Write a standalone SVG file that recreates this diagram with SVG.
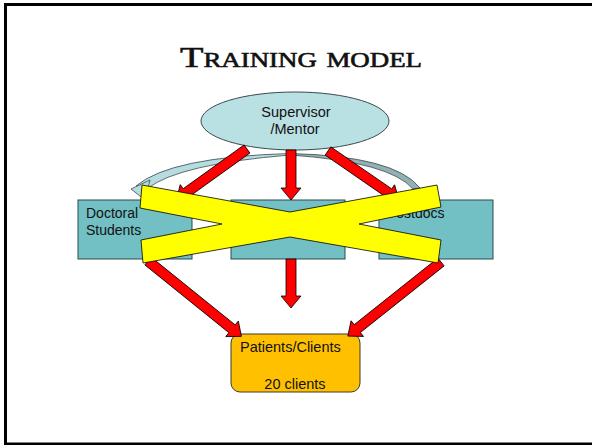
<svg xmlns="http://www.w3.org/2000/svg" width="592" height="445" viewBox="0 0 592 445">
<style>
.lbl{font-family:"Liberation Sans",Arial,sans-serif;font-size:14.5px;fill:#111}
.box{fill:#72bfc4;stroke:#2d4a4c;stroke-width:1}
.arr{fill:#ff0000;stroke:#000;stroke-width:0.8;stroke-linejoin:miter}
</style>
<rect width="592" height="445" fill="#fff"/>
<rect x="5.5" y="4.5" width="600" height="439.5" fill="none" stroke="#000" stroke-width="3"/>
<text x="180" y="67" textLength="242" lengthAdjust="spacingAndGlyphs" font-family="'Liberation Serif',serif" font-size="30" font-variant="small-caps" fill="#111" stroke="#111" stroke-width="0.6">Training model</text>

<g id="node-supervisor">
<ellipse cx="295" cy="121" rx="94" ry="29" fill="#b9e0e3" stroke="#3a4a4c" stroke-width="1"/>
<text class="lbl" x="296" y="117" text-anchor="middle">Supervisor</text>
<text class="lbl" x="295" y="134" text-anchor="middle">/Mentor</text>
</g>
<g id="node-doctoral">
<rect class="box" x="78" y="200" width="114" height="59"/>
<text class="lbl" x="86" y="218" style="font-size:14px">Doctoral</text>
<text class="lbl" x="86" y="235" style="font-size:14px">Students</text>
</g>
<g id="node-center">
<rect class="box" x="231" y="200" width="114" height="59"/>
</g>
<g id="node-postdocs">
<rect class="box" x="379" y="200" width="114" height="59"/>
<text class="lbl" x="387" y="218" style="font-size:14px">Postdocs</text>
</g>
<g id="node-patients">
<rect x="231" y="334" width="129" height="58" rx="9" fill="#ffc000" stroke="#3a3a2a" stroke-width="1"/>
<text class="lbl" x="240" y="352">Patients/Clients</text>
<text class="lbl" x="295" y="389" text-anchor="middle">20 clients</text>
</g>

<g id="connectors">
<path d="M136,186 Q170,157 290,153.5 L290,155 Q180,164 148,188 Z" fill="#b6dce0" stroke="#3a4a4c" stroke-width="0.8"/>
<path d="M290,153.5 Q395,156 420,188 L413,189 Q390,162 290,155 Z" fill="#93b0b5" stroke="#3a4a4c" stroke-width="0.8"/>
<polygon points="131,189 150,180 145,200" fill="#b6dce0" stroke="#3a4a4c" stroke-width="0.8"/>
<polygon class="arr" transform="translate(247,149) rotate(144.3)" points="0,-5 75,-5 75,-10 87,0 75,10 75,5 0,5"/>
<polygon class="arr" transform="translate(291,150) rotate(90)" points="0,-5 38,-5 38,-10 50,0 38,10 38,5 0,5"/>
<polygon class="arr" transform="translate(328,151) rotate(34.6)" points="0,-5 74,-5 74,-10 86,0 74,10 74,5 0,5"/>
<polygon class="arr" transform="translate(148,261) rotate(38.9)" points="0,-5 108,-5 108,-10 120,0 108,10 108,5 0,5"/>
<polygon class="arr" transform="translate(291,259) rotate(90)" points="0,-5 37,-5 37,-10 49,0 37,10 37,5 0,5"/>
<polygon class="arr" transform="translate(441,262) rotate(141.5)" points="0,-5 107,-5 107,-10 119,0 107,10 107,5 0,5"/>
</g>

<g id="cross">
<polygon points="142,185 290,212 437,185 441,207 359,224 441,240 438,263 290,237 143,263 141,240 222,224 140,208" fill="#ffff00" stroke="#000" stroke-width="0.8" stroke-linejoin="miter"/>
</g>
</svg>
